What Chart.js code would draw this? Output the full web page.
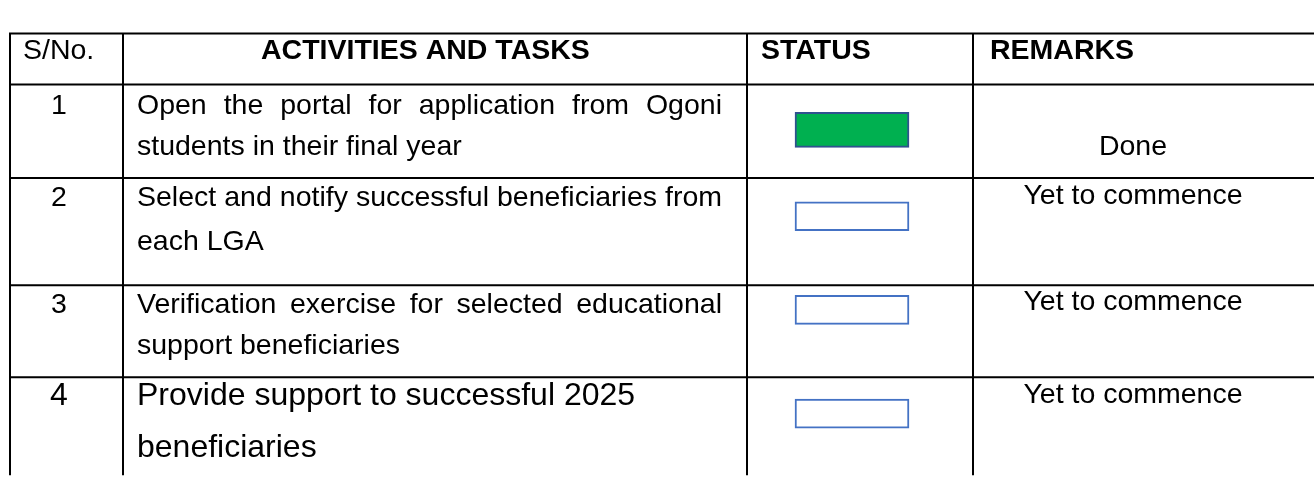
<!DOCTYPE html>
<html>
<head>
<meta charset="utf-8">
<script src="https://cdn.jsdelivr.net/npm/chart.js@4/dist/chart.umd.min.js"></script>
<style>
  html, body { margin: 0; padding: 0; background: #ffffff; }
  #wrap { width: 1314px; height: 498px; }
</style>
</head>
<body>
<div id="wrap"><canvas id="c" width="1314" height="498"></canvas></div>
<script>
// ---------------- data ----------------
const headers = ['S/No.', 'ACTIVITIES AND TASKS', 'STATUS', 'REMARKS'];
const serialNos = ['1', '2', '3', '4'];
const taskLines = [
  ['Open the portal for application from Ogoni', 'students in their final year'],
  ['Select and notify successful beneficiaries from', 'each LGA'],
  ['Verification exercise for selected educational', 'support beneficiaries'],
  ['Provide support to successful 2025', 'beneficiaries']
];
const statusDone = [1, 0, 0, 0];           // 1 = completed (filled), 0 = not started
const remarks = ['Done', 'Yet to commence', 'Yet to commence', 'Yet to commence'];

// ---------------- layout (pixels in table space) ----------------
const W = 1314, H = 498;
const COL_X = [10, 123, 747, 973];          // vertical rules
const ROW_Y = [12, 68, 171, 289, 390];       // horizontal rules
const FONT = '"Liberation Sans", Arial, sans-serif';
const BASE_SIZE = 28.5;
const rowFontSize = [28.5, 28.5, 28.5, 32];
const rowJustify = [true, true, true, false];
const rowFirstBaseline = [32, 31, 30, 31];
const rowLineGap = [46, 48, 46, 57];
const remarkLine = [1, 0, 0, 0];
const remarkDy = [0, -3, -3, -3];
const statusBoxDy = [50, 42, 27, 40];      // box centre below the row's top rule
const HEADER_BASELINE = 28;
const TEXT_LEFT = 137, TEXT_RIGHT = 722;
const SNO_CENTER = 59;
const REMARK_CENTER = 1133;
const BOX_W = 114;
const STATUS_CENTER = 852;

function boxFor(i) {
  return { y: ROW_Y[i + 1] + statusBoxDy[i], x: [STATUS_CENTER - BOX_W / 2, STATUS_CENTER + BOX_W / 2] };
}
const doneData = [], pendingData = [];
statusDone.forEach((d, i) => (d ? doneData : pendingData).push(boxFor(i)));

// ---------------- table plugin ----------------
const tablePlugin = {
  id: 'tablePlugin',
  beforeDatasetsDraw(chart) {
    const ctx = chart.ctx;
    const sx = v => chart.scales.x.getPixelForValue(v);
    const sy = v => chart.scales.y.getPixelForValue(v);
    ctx.save();
    ctx.fillStyle = '#ffffff';
    ctx.fillRect(0, 0, chart.width, chart.height);

    // rules
    ctx.strokeStyle = '#000000';
    ctx.lineWidth = 2;
    ctx.beginPath();
    ROW_Y.forEach(y => { ctx.moveTo(sx(COL_X[0]) - 1, sy(y)); ctx.lineTo(sx(W), sy(y)); });
    COL_X.forEach(x => { ctx.moveTo(sx(x), sy(ROW_Y[0]) - 1); ctx.lineTo(sx(x), sy(H)); });
    ctx.stroke();

    ctx.fillStyle = '#000000';
    ctx.textBaseline = 'alphabetic';

    // header
    const hb = sy(ROW_Y[0] + HEADER_BASELINE);
    ctx.font = `${BASE_SIZE}px ${FONT}`;
    ctx.textAlign = 'left';
    ctx.fillText(headers[0], sx(23), hb);
    ctx.font = `bold ${BASE_SIZE}px ${FONT}`;
    ctx.fillText(headers[1], sx(261), hb);
    ctx.fillText(headers[2], sx(761), hb);
    ctx.fillText(headers[3], sx(990), hb);

    // body rows
    for (let i = 0; i < taskLines.length; i++) {
      const top = ROW_Y[i + 1];
      const fs = rowFontSize[i];
      const gap = rowLineGap[i];
      const b0 = top + rowFirstBaseline[i];
      ctx.font = `${fs}px ${FONT}`;
      ctx.textAlign = 'center';
      ctx.fillText(serialNos[i], sx(SNO_CENTER), sy(b0));

      ctx.textAlign = 'left';
      const lines = taskLines[i];
      lines.forEach((line, k) => {
        const by = sy(b0 + k * gap);
        const justify = rowJustify[i] && k < lines.length - 1;
        if (!justify) { ctx.fillText(line, sx(TEXT_LEFT), by); return; }
        const words = line.split(' ');
        const widths = words.map(w => ctx.measureText(w).width);
        const total = widths.reduce((a, b) => a + b, 0);
        const spaceW = ctx.measureText(' ').width;
        const avail = sx(TEXT_RIGHT) - sx(TEXT_LEFT);
        const gapW = Math.max(spaceW * 0.9, (avail - total) / (words.length - 1));
        let x = sx(TEXT_LEFT);
        words.forEach((w, j) => { ctx.fillText(w, x, by); x += widths[j] + gapW; });
      });

      ctx.font = `${BASE_SIZE}px ${FONT}`;
      ctx.textAlign = 'center';
      ctx.fillText(remarks[i], sx(REMARK_CENTER), sy(b0 + remarkLine[i] * gap + remarkDy[i]));
    }
    ctx.restore();
  }
};

new Chart(document.getElementById('c'), {
  type: 'bar',
  data: {
    datasets: [
      { label: 'Done', data: doneData, backgroundColor: '#00B050', borderColor: '#2F528F',
        borderWidth: 2, borderSkipped: false, barThickness: 35 },
      { label: 'Yet to commence', data: pendingData, backgroundColor: '#ffffff', borderColor: '#4472C4',
        borderWidth: 2, borderSkipped: false, barThickness: 29 }
    ]
  },
  options: {
    indexAxis: 'y',
    responsive: false,
    devicePixelRatio: 1,
    animation: false,
    events: [],
    layout: { padding: 0 },
    datasets: { bar: { grouped: false } },
    scales: {
      x: { type: 'linear', min: 0, max: W, display: false },
      y: { type: 'linear', min: 0, max: H, reverse: true, display: false }
    },
    plugins: { legend: { display: false }, tooltip: { enabled: false } }
  },
  plugins: [tablePlugin]
});
</script>
</body>
</html>
